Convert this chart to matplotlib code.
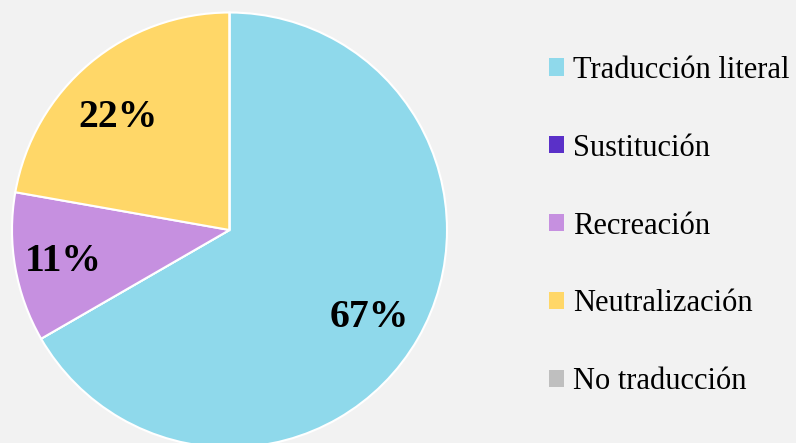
import matplotlib
matplotlib.use("Agg")
import matplotlib.pyplot as plt
from matplotlib.patches import Patch

categories = ["Traducción literal", "Sustitución", "Recreación", "Neutralización", "No traducción"]
values = [66.67, 0, 11.11, 22.22, 0]
colors = ["#8fd9eb", "#5a30c8", "#c690e0", "#ffd768", "#bfbfbf"]
# label anchor positions (pixel) for the non-zero slices
label_px = {0: (369, 318), 2: (63, 262), 3: (118, 118)}

plt.rcParams['font.family'] = ['Liberation Serif', 'DejaVu Serif']

fig = plt.figure(figsize=(7.96, 4.43), dpi=100)
fig.patch.set_facecolor("#f2f2f2")
W, H = 796, 443
cx, cy, r = 229.5, 230, 217.5
ax = fig.add_axes([(cx - r) / W, (H - cy - r) / H, 2 * r / W, 2 * r / H])
ax.set_facecolor("#f2f2f2")

def fmt(p):
    return f"{p:.0f}%" if p > 0.5 else ""

wedges, texts, autotexts = ax.pie(
    values, colors=colors, startangle=90, counterclock=False,
    autopct=fmt, pctdistance=0.76,
    wedgeprops=dict(edgecolor="white", linewidth=1.5),
    textprops=dict(fontsize=28.5, fontweight="bold", color="black"),
)
for i, (px, py) in label_px.items():
    autotexts[i].set_position(((px - cx) / r, (cy - py) / r))
ax.set_xlim(-1, 1)
ax.set_ylim(-1, 1)
ax.set_aspect("equal")
ax.axis("off")

handles = [Patch(facecolor=c, edgecolor="none") for c in colors]
fig.legend(handles, categories, loc="center left", bbox_to_anchor=(549 / W, (H - 226) / H),
           frameon=False, fontsize=22, handlelength=0.5, handleheight=0.5,
           handletextpad=0.3, labelspacing=1.6, borderpad=0, borderaxespad=0)

fig.savefig("out.png", dpi=100, facecolor=fig.get_facecolor())
